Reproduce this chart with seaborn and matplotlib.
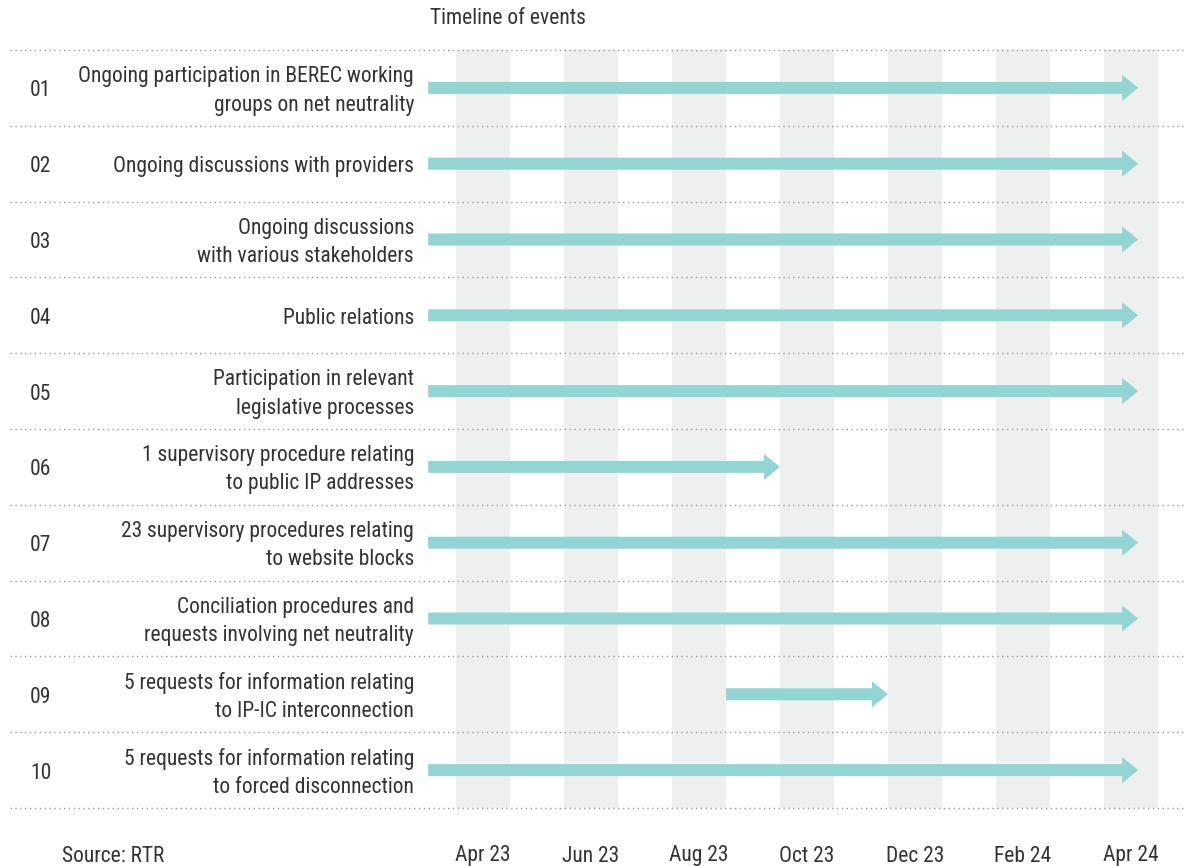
import matplotlib
matplotlib.use("Agg")
import matplotlib.pyplot as plt
import pandas as pd
import seaborn as sns

# data
numbers = ["01", "02", "03", "04", "05", "06", "07", "08", "09", "10"]
labels = [
    "Ongoing participation in BEREC working\ngroups on net neutrality",
    "Ongoing discussions with providers",
    "Ongoing discussions\nwith various stakeholders",
    "Public relations",
    "Participation in relevant\nlegislative processes",
    "1 supervisory procedure relating\nto public IP addresses",
    "23 supervisory procedures relating\nto website blocks",
    "Conciliation procedures and\nrequests involving net neutrality",
    "5 requests for information relating\nto IP-IC interconnection",
    "5 requests for information relating\nto forced disconnection",
]
starts = ["2023-03-16", "2023-03-16", "2023-03-16", "2023-03-16", "2023-03-16",
          "2023-03-16", "2023-03-16", "2023-03-16", "2023-09-01", "2023-03-16"]
ends = ["2024-04-20", "2024-04-20", "2024-04-20", "2024-04-20", "2024-04-20",
        "2023-10-01", "2024-04-20", "2024-04-20", "2023-12-01", "2024-04-20"]
tick_months = ["Apr 23", "Jun 23", "Aug 23", "Oct 23", "Dec 23", "Feb 24", "Apr 24"]
origin = pd.Timestamp("2023-04-01")


def to_months(s):
    d = pd.Timestamp(s)
    m = (d.year - origin.year) * 12 + (d.month - origin.month)
    return m + (d.day - 1) / d.days_in_month


df = pd.DataFrame({"num": numbers, "label": labels,
                   "start": [to_months(s) for s in starts],
                   "end": [to_months(e) for e in ends]})

sns.set_theme(style="white")
plt.rcParams["font.family"] = ["Roboto Condensed", "DejaVu Sans"]
plt.rcParams["font.weight"] = 400

W, H = 1192, 866
fig = plt.figure(figsize=(W / 100, H / 100), dpi=100)
left_px, right_px, top_px, bot_px = 10, 1185, 50, 808
ax = fig.add_axes([left_px / W, 1 - bot_px / H, (right_px - left_px) / W, (bot_px - top_px) / H])
px_month = 54
x0 = (left_px - 456) / px_month
x1 = (right_px - 456) / px_month
ax.set_xlim(x0, x1)
ax.set_ylim(len(df) - 0.5, -0.5)
ax.axis("off")

text_color = "#333333"
band_color = "#eef0ef"
arrow_color = "#93d5d3"
fs = 15.5

# month bands
for i in range(0, 13, 2):
    ax.axvspan(i, i + 1, color=band_color, lw=0, zorder=0)

# dotted separators
for k in range(len(df) + 1):
    ax.axhline(k - 0.5, color="#9a9a9a", lw=1.0, ls=(0, (1, 2.5)), zorder=1, clip_on=False)

row_px = (bot_px - top_px) / len(df)
shaft = 12 / row_px
head_w = 26 / row_px
head_l = 16 / px_month
dy = 3 / row_px  # nudge labels a little below the arrow centre

for i, r in df.iterrows():
    ax.arrow(r["start"], i, r["end"] - r["start"] - head_l, 0, width=shaft,
             head_width=head_w, head_length=head_l, length_includes_head=False,
             color=arrow_color, lw=0, zorder=3)
    ax.text((30 - 456) / px_month, i + dy, r["num"], ha="left", va="center",
            fontsize=fs, color=text_color)
    ax.text((414 - 456) / px_month, i + dy, r["label"], ha="right", va="center",
            fontsize=fs, color=text_color, linespacing=1.45)

for j, t in enumerate(tick_months):
    fig.text((456 + px_month * (2 * j + 0.5)) / W, 1 - 856 / H, t, ha="center",
             va="center", fontsize=fs, color=text_color)

fig.text(62 / W, 1 - 856 / H, "Source: RTR", ha="left", va="center", fontsize=fs, color=text_color)
fig.text(430 / W, 1 - 19 / H, "Timeline of events", ha="left", va="center", fontsize=fs, color=text_color)

fig.savefig("out.png", dpi=100, facecolor="white")
